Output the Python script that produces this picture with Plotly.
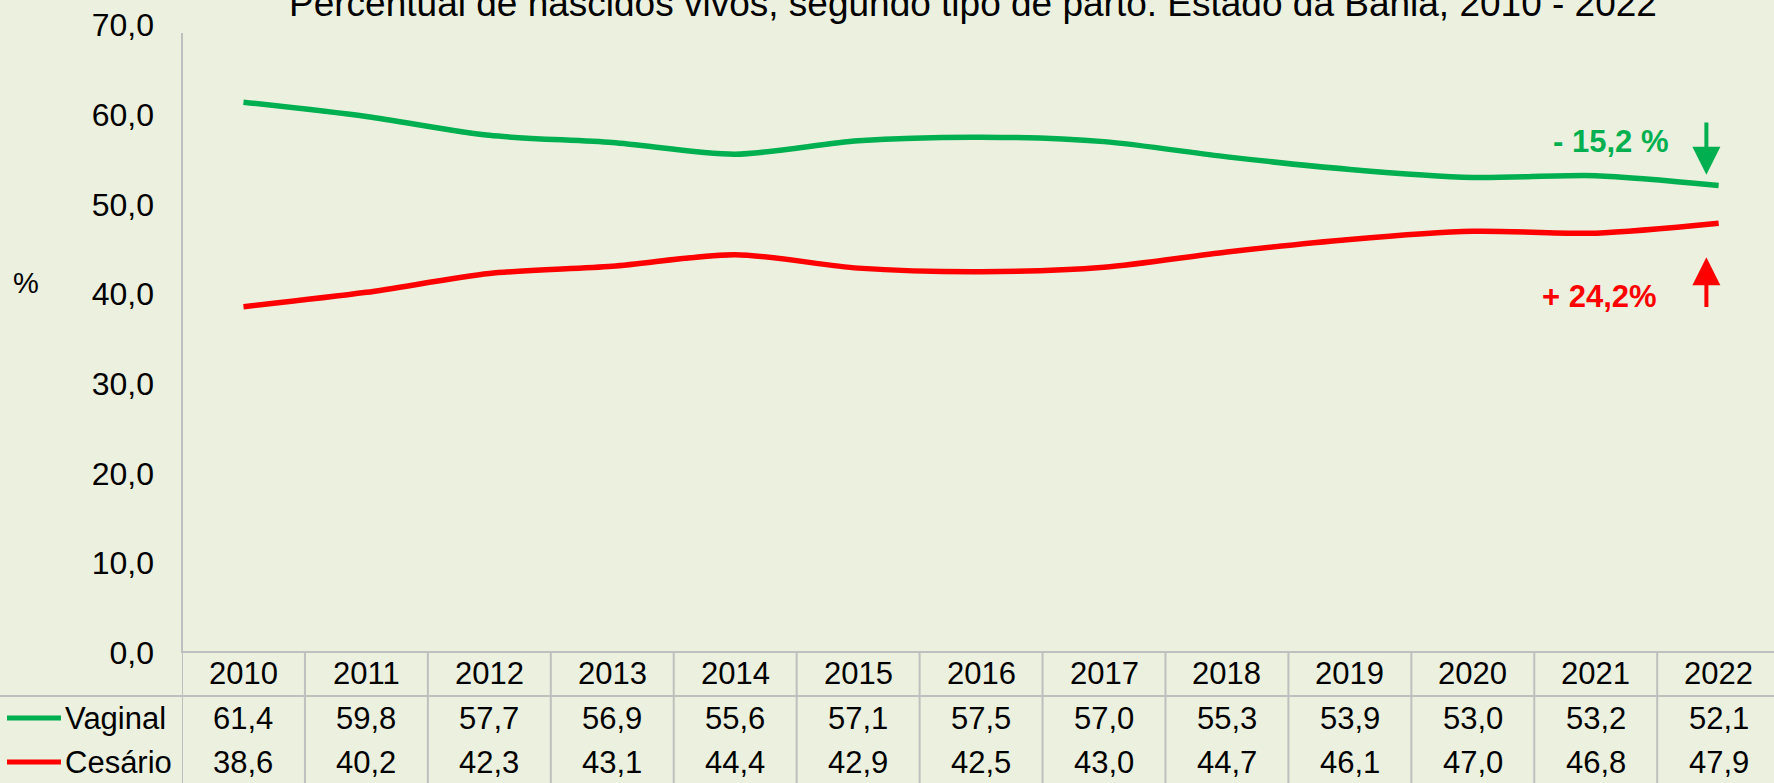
import plotly.graph_objects as go

years = [2010, 2011, 2012, 2013, 2014, 2015, 2016, 2017, 2018, 2019, 2020, 2021, 2022]
vaginal = [61.4, 59.8, 57.7, 56.9, 55.6, 57.1, 57.5, 57.0, 55.3, 53.9, 53.0, 53.2, 52.1]
cesario = [38.6, 40.2, 42.3, 43.1, 44.4, 42.9, 42.5, 43.0, 44.7, 46.1, 47.0, 46.8, 47.9]
series_names = ["Vaginal", "Cesário"]
title_text = "Percentual de nascidos vivos, segundo tipo de parto. Estado da Bahia, 2010 - 2022"
note_vaginal = "- 15,2 %"
note_cesario = "+ 24,2%"

W, H = 1774, 783
L, R, T, B = 182, 0, 25, 130
PH = H - T - B
PW = W - L - R
FONT = "Liberation Sans, Arial, sans-serif"
BG = "#EBF1DE"
GREEN = "#00B050"
RED = "#FF0000"
GRID = "#BFBFBF"
FS = 31

def py(p):  # pixel y -> paper y
    return (H - B - p) / PH

def px(p):  # pixel x -> paper x
    return (p - L) / PW

def fmt(v):
    return f"{v:.1f}".replace(".", ",")

idx = list(range(len(years)))

fig = go.Figure()
fig.add_trace(go.Scatter(x=idx, y=vaginal, mode="lines", name=series_names[0],
                         line=dict(color=GREEN, width=5.5, shape="spline", smoothing=0.8),
                         showlegend=False, hoverinfo="skip"))
fig.add_trace(go.Scatter(x=idx, y=cesario, mode="lines", name=series_names[1],
                         line=dict(color=RED, width=5.5, shape="spline", smoothing=0.8),
                         showlegend=False, hoverinfo="skip"))

shapes = []
annotations = []
# y axis line
shapes.append(dict(type="line", xref="paper", yref="paper", x0=0, x1=0, y0=py(653), y1=py(33),
                   line=dict(color=GRID, width=2)))
# table horizontal lines
shapes.append(dict(type="line", xref="paper", yref="paper", x0=0, x1=1, y0=py(652), y1=py(652),
                   line=dict(color=GRID, width=2)))
shapes.append(dict(type="line", xref="paper", yref="paper", x0=px(0), x1=1, y0=py(696), y1=py(696),
                   line=dict(color=GRID, width=2)))
# table vertical lines
for k in range(len(years) + 1):
    shapes.append(dict(type="line", xref="x", yref="paper", x0=k - 0.5, x1=k - 0.5,
                       y0=py(H + 5), y1=py(652), line=dict(color=GRID, width=2)))

row_y = [673, 718, 762]
for i, yr in enumerate(years):
    annotations.append(dict(x=i, y=py(row_y[0]), xref="x", yref="paper", text=str(yr),
                            showarrow=False, font=dict(size=FS, color="#000"), yanchor="middle"))
    annotations.append(dict(x=i, y=py(row_y[1]), xref="x", yref="paper", text=fmt(vaginal[i]),
                            showarrow=False, font=dict(size=FS, color="#000"), yanchor="middle"))
    annotations.append(dict(x=i, y=py(row_y[2]), xref="x", yref="paper", text=fmt(cesario[i]),
                            showarrow=False, font=dict(size=FS, color="#000"), yanchor="middle"))

# legend keys in table
for name, col, ry in [(series_names[0], GREEN, row_y[1]), (series_names[1], RED, row_y[2])]:
    shapes.append(dict(type="line", xref="paper", yref="paper", x0=px(7), x1=px(61),
                       y0=py(ry), y1=py(ry), line=dict(color=col, width=5)))
    annotations.append(dict(x=px(63), y=py(ry), xref="paper", yref="paper", text=name,
                            showarrow=False, xanchor="left", yanchor="middle",
                            font=dict(size=FS, color="#000")))

# % label
annotations.append(dict(x=px(26), y=py(283), xref="paper", yref="paper", text="%",
                        showarrow=False, xanchor="center", yanchor="middle",
                        font=dict(size=29, color="#000")))

# change notes and arrows
annotations.append(dict(x=11.12, y=56.97, xref="x", yref="y", text=f"<b>{note_vaginal}</b>",
                        showarrow=False, font=dict(size=31, color=GREEN)))
annotations.append(dict(x=11.03, y=39.7, xref="x", yref="y", text=f"<b>{note_cesario}</b>",
                        showarrow=False, font=dict(size=31, color=RED)))
annotations.append(dict(x=11.9, y=53.3, ax=11.9, ay=59.3, xref="x", yref="y", axref="x", ayref="y",
                        text="", showarrow=True, arrowhead=2, arrowsize=1.4, arrowwidth=4,
                        arrowcolor=GREEN))
annotations.append(dict(x=11.9, y=44.1, ax=11.9, ay=38.4, xref="x", yref="y", axref="x", ayref="y",
                        text="", showarrow=True, arrowhead=2, arrowsize=1.4, arrowwidth=4,
                        arrowcolor=RED))

fig.update_layout(
    width=W, height=H,
    margin=dict(l=L, r=R, t=T, b=B),
    paper_bgcolor=BG, plot_bgcolor=BG,
    font=dict(family=FONT, size=FS, color="#000"),
    separators=", ",
    title=dict(text=title_text, x=973 / W, xanchor="center", y=1 - 3 / H, yanchor="middle",
               font=dict(family=FONT, size=37, color="#000")),
    xaxis=dict(range=[-0.5, 12.45], showticklabels=False, showgrid=False, zeroline=False,
               showline=False, fixedrange=True),
    yaxis=dict(range=[0, 70], dtick=10, tickformat=".1f", showgrid=False, zeroline=False,
               showline=False, ticks="", ticklabelstandoff=27, fixedrange=True,
               tickfont=dict(size=32, color="#000")),
    shapes=shapes, annotations=annotations,
    showlegend=False,
    hovermode=False,
)

fig.write_html("out.html", config={"displayModeBar": False},
               post_script="document.body.style.margin='0';document.body.style.overflow='hidden';")
